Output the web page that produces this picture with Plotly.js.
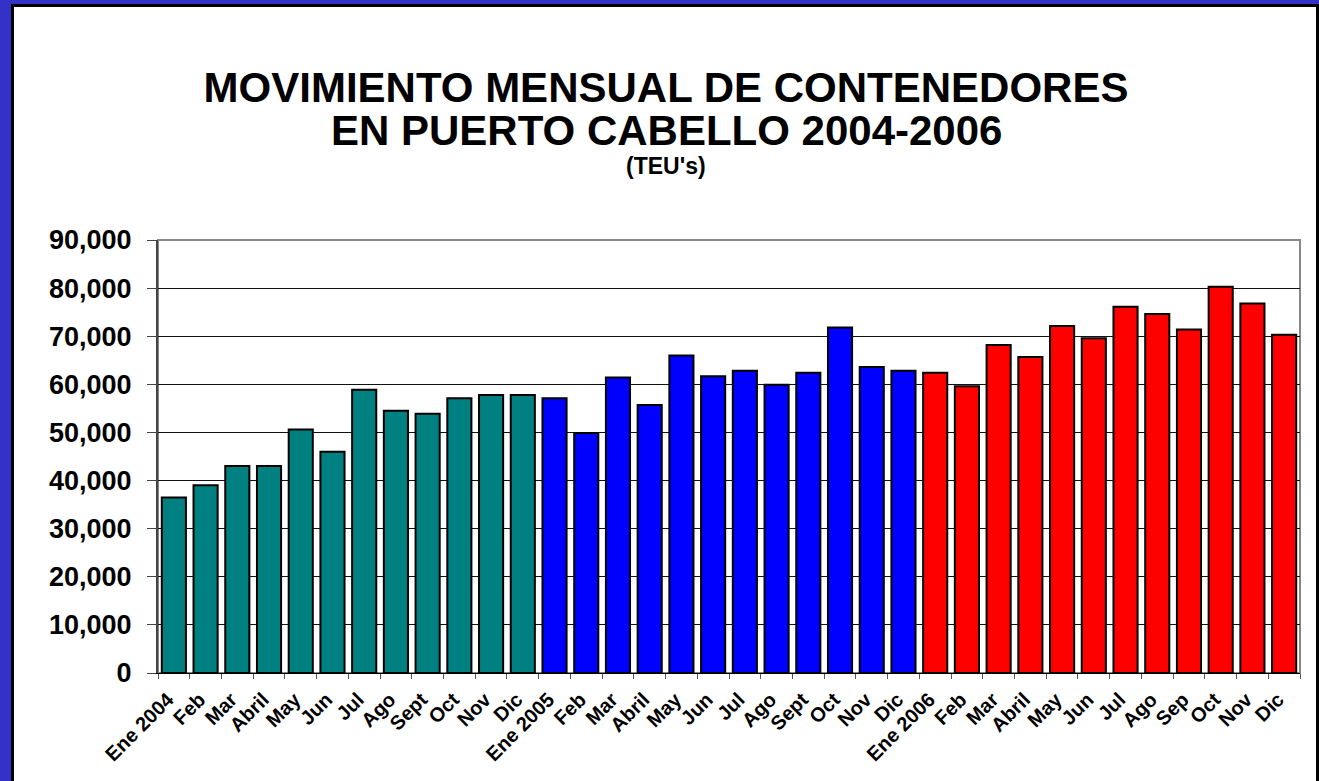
<!DOCTYPE html>
<html>
<head>
<meta charset="utf-8">
<script src="https://cdn.plot.ly/plotly-3.0.1.min.js"></script>
<style>
  html, body { margin: 0; padding: 0; width: 1319px; height: 781px; overflow: hidden; background: #3232C8; }
  #frame { position: absolute; left: 11px; top: 4px; width: 1308px; height: 800px; background: #ffffff; border: 3px solid #000000; border-bottom: none; box-sizing: border-box; }
  #chart { position: absolute; left: 0; top: 0; width: 1319px; height: 781px; }
</style>
</head>
<body>
<div id="frame"></div>
<div id="chart"></div>
<script>
// Month labels as displayed on the axis
const labels2004 = ["Ene 2004", "Feb", "Mar", "Abril", "May", "Jun", "Jul", "Ago", "Sept", "Oct", "Nov", "Dic"];
const labels2005 = ["Ene 2005", "Feb", "Mar", "Abril", "May", "Jun", "Jul", "Ago", "Sept", "Oct", "Nov", "Dic"];
const labels2006 = ["Ene 2006", "Feb", "Mar", "Abril", "May", "Jun", "Jul", "Ago", "Sep", "Oct", "Nov", "Dic"];

// TEU's per month
const teu2004 = [36500, 39000, 43000, 43000, 50600, 46000, 58900, 54500, 53900, 57100, 57800, 57800];
const teu2005 = [57100, 49900, 61400, 55700, 66000, 61700, 62800, 59900, 62400, 71800, 63600, 62800];
const teu2006 = [62400, 59600, 68200, 65700, 72100, 69600, 76100, 74600, 71400, 80300, 76800, 70300];

const yTicks = [0, 10000, 20000, 30000, 40000, 50000, 60000, 70000, 80000, 90000];

const titleLine1 = "MOVIMIENTO MENSUAL DE CONTENEDORES";
const titleLine2 = "EN PUERTO CABELLO 2004-2006";
const subtitle = "(TEU's)";

// unique category keys (labels repeat across years)
const keys2004 = labels2004.map(l => l + "|2004");
const keys2005 = labels2005.map(l => l + "|2005");
const keys2006 = labels2006.map(l => l + "|2006");

const FONT = "Liberation Sans, Arial, Helvetica, sans-serif";

const barLine = { color: "#000000", width: 2 };
const traces = [
  { type: "bar", name: "2004", x: keys2004, y: teu2004, marker: { color: "#008080", line: barLine }, hoverinfo: "y" },
  { type: "bar", name: "2005", x: keys2005, y: teu2005, marker: { color: "#0000FF", line: barLine }, hoverinfo: "y" },
  { type: "bar", name: "2006", x: keys2006, y: teu2006, marker: { color: "#FF0000", line: barLine }, hoverinfo: "y" }
];

const allKeys = keys2004.concat(keys2005, keys2006);
const allLabels = labels2004.concat(labels2005, labels2006);

// plot area in pixels: left 158, right 1300, top 240, bottom 673
const PL = 158, PW = 1142, PB = 673, PH = 433;
const px2x = px => (px - PL) / PW;
const px2y = py => (PB - py) / PH;

const layout = {
  width: 1319,
  height: 781,
  paper_bgcolor: "rgba(0,0,0,0)",
  plot_bgcolor: "#ffffff",
  showlegend: false,
  barmode: "relative",
  bargap: 0.24,
  margin: { l: 158, r: 19, t: 240, b: 108, pad: 0 },
  font: { family: FONT, color: "#000000" },
  title: {
    text: titleLine1,
    font: { family: FONT, size: 42, weight: 700, color: "#000000" },
    x: px2x(666), xanchor: "center", xref: "paper",
    y: 1 - 87 / 781, yref: "container", yanchor: "middle"
  },
  annotations: [
    {
      text: titleLine2, xref: "paper", yref: "paper",
      x: px2x(666), y: px2y(130), xanchor: "center", yanchor: "middle",
      showarrow: false, borderpad: 0,
      font: { family: FONT, size: 42, weight: 700, color: "#000000" }
    },
    {
      text: subtitle, xref: "paper", yref: "paper",
      x: px2x(666), y: px2y(166), xanchor: "center", yanchor: "middle",
      showarrow: false, borderpad: 0,
      font: { family: FONT, size: 23, weight: 700, color: "#000000" }
    }
  ],
  shapes: [
    { type: "rect", xref: "paper", yref: "paper", x0: 0, x1: 1, y0: 0, y1: 1,
      line: { color: "#888888", width: 2 }, layer: "below" }
  ],
  xaxis: {
    type: "category",
    categoryorder: "array",
    categoryarray: allKeys,
    tickvals: allKeys,
    ticktext: allLabels,
    tickangle: -45,
    tickson: "boundaries",
    ticks: "outside",
    ticklen: 5,
    tickwidth: 1,
    tickcolor: "#555555",
    ticklabelstandoff: 6,
    ticklabelshift: -6,
    showline: true,
    linecolor: "#000000",
    linewidth: 1,
    showgrid: false,
    tickfont: { family: FONT, size: 20, weight: 700, color: "#000000" },
    automargin: false,
    fixedrange: true
  },
  yaxis: {
    range: [0, 90000],
    tickvals: yTicks,
    tickformat: ",d",
    ticks: "outside",
    ticklen: 9,
    tickwidth: 1,
    tickcolor: "#444444",
    ticklabelstandoff: 10,
    showline: true,
    linecolor: "#444444",
    linewidth: 2,
    showgrid: true,
    gridcolor: "#111111",
    gridwidth: 1,
    zeroline: false,
    tickfont: { family: FONT, size: 27, weight: 700, color: "#000000" },
    automargin: false,
    fixedrange: true
  }
};

Plotly.newPlot("chart", traces, layout, { displayModeBar: false, staticPlot: true });
</script>
</body>
</html>
